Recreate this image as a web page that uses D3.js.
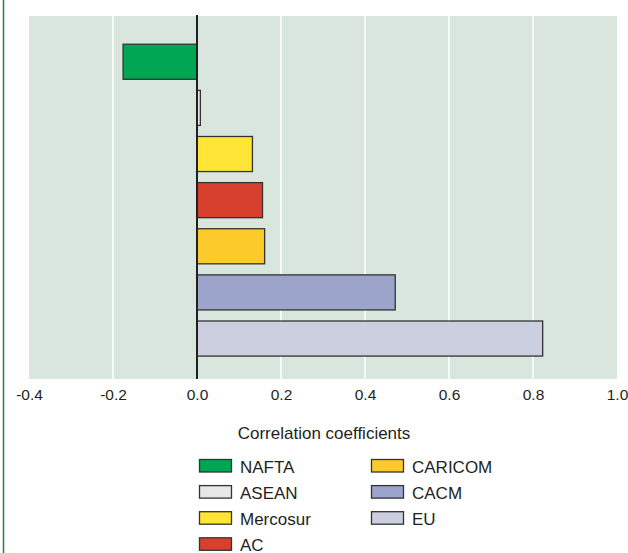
<!DOCTYPE html>
<html>
<head>
<meta charset="utf-8">
<script src="https://cdn.jsdelivr.net/npm/d3@7"></script>
<style>
  html, body { margin: 0; padding: 0; background: #ffffff; }
  svg { display: block; }
  text { font-family: "Liberation Sans", Arial, sans-serif; fill: #231f20; }
</style>
</head>
<body>
<svg id="chart" width="628" height="553"></svg>
<script>
// Trade blocs and their correlation coefficients
const blocs = ["NAFTA", "ASEAN", "Mercosur", "AC", "CARICOM", "CACM", "EU"];
const coefficients = [-0.176, 0.008, 0.132, 0.156, 0.161, 0.472, 0.823];
const blocColors = ["#00a651", "#e6e7e8", "#ffe535", "#d7402d", "#fdca2b", "#9ca4cc", "#cbcfe0"];
const xTicks = [-0.4, -0.2, 0.0, 0.2, 0.4, 0.6, 0.8, 1.0];
const axisTitle = "Correlation coefficients";

const svg = d3.select("#chart");

const plot = { left: 29, right: 617, top: 16, bottom: 379 };

const x = d3.scaleLinear().domain([-0.4, 1.0]).range([plot.left, plot.right]);
const y = d3.scaleBand().domain(blocs).range([38.7, 361.6]).paddingInner(0.24).paddingOuter(0.12);

// thin green rule down the left edge of the page
svg.append("line")
  .attr("x1", 3.5).attr("x2", 3.5).attr("y1", 0).attr("y2", 553)
  .attr("stroke", "#2b7a50").attr("stroke-width", 1.5);

// plot background
svg.append("rect")
  .attr("x", plot.left).attr("y", plot.top)
  .attr("width", plot.right - plot.left).attr("height", plot.bottom - plot.top)
  .attr("fill", "#d9e6dd");

// white vertical gridlines
svg.append("g").selectAll("line")
  .data(xTicks.filter(t => t > -0.4 && t < 1.0 && t !== 0))
  .join("line")
  .attr("x1", d => x(d)).attr("x2", d => x(d))
  .attr("y1", plot.top).attr("y2", plot.bottom)
  .attr("stroke", "#ffffff").attr("stroke-width", 1.6);

// bars
svg.append("g").selectAll("rect")
  .data(blocs.map((b, i) => ({ bloc: b, value: coefficients[i], color: blocColors[i] })))
  .join("rect")
  .attr("x", d => x(Math.min(0, d.value)))
  .attr("y", d => y(d.bloc))
  .attr("width", d => Math.abs(x(d.value) - x(0)))
  .attr("height", y.bandwidth())
  .attr("fill", d => d.color)
  .attr("stroke", "#333333").attr("stroke-width", 1.3);

// zero line
svg.append("line")
  .attr("x1", x(0)).attr("x2", x(0))
  .attr("y1", plot.top - 1).attr("y2", plot.bottom)
  .attr("stroke", "#231f20").attr("stroke-width", 2);

// x axis labels (plain hyphen for negatives)
const xAxis = d3.axisBottom(x).tickValues(xTicks).tickFormat(d => d.toFixed(1)).tickSize(0).tickPadding(10);
const gx = svg.append("g").attr("transform", `translate(0,${plot.bottom})`).call(xAxis);
gx.select(".domain").remove();
gx.selectAll("text")
  .attr("font-size", 15.5)
  .attr("font-family", "Liberation Sans, Arial, sans-serif")
  .attr("fill", "#231f20");

// axis title
svg.append("text")
  .attr("x", 324).attr("y", 439)
  .attr("text-anchor", "middle")
  .attr("font-size", 17)
  .text(axisTitle);

// legend: two columns
const legendRows = 4;
const legend = svg.append("g").selectAll("g")
  .data(blocs.map((b, i) => ({ bloc: b, color: blocColors[i], i })))
  .join("g")
  .attr("transform", d => {
    const col = Math.floor(d.i / legendRows);
    const row = d.i % legendRows;
    return `translate(${col === 0 ? 199.5 : 371.5},${459.5 + row * 26.1})`;
  });

legend.append("rect")
  .attr("width", 32).attr("height", 12.5)
  .attr("fill", d => d.color)
  .attr("stroke", "#333333").attr("stroke-width", 1.3);

legend.append("text")
  .attr("x", 40.5).attr("y", 13)
  .attr("font-size", 17)
  .text(d => d.bloc);
</script>
</body>
</html>
